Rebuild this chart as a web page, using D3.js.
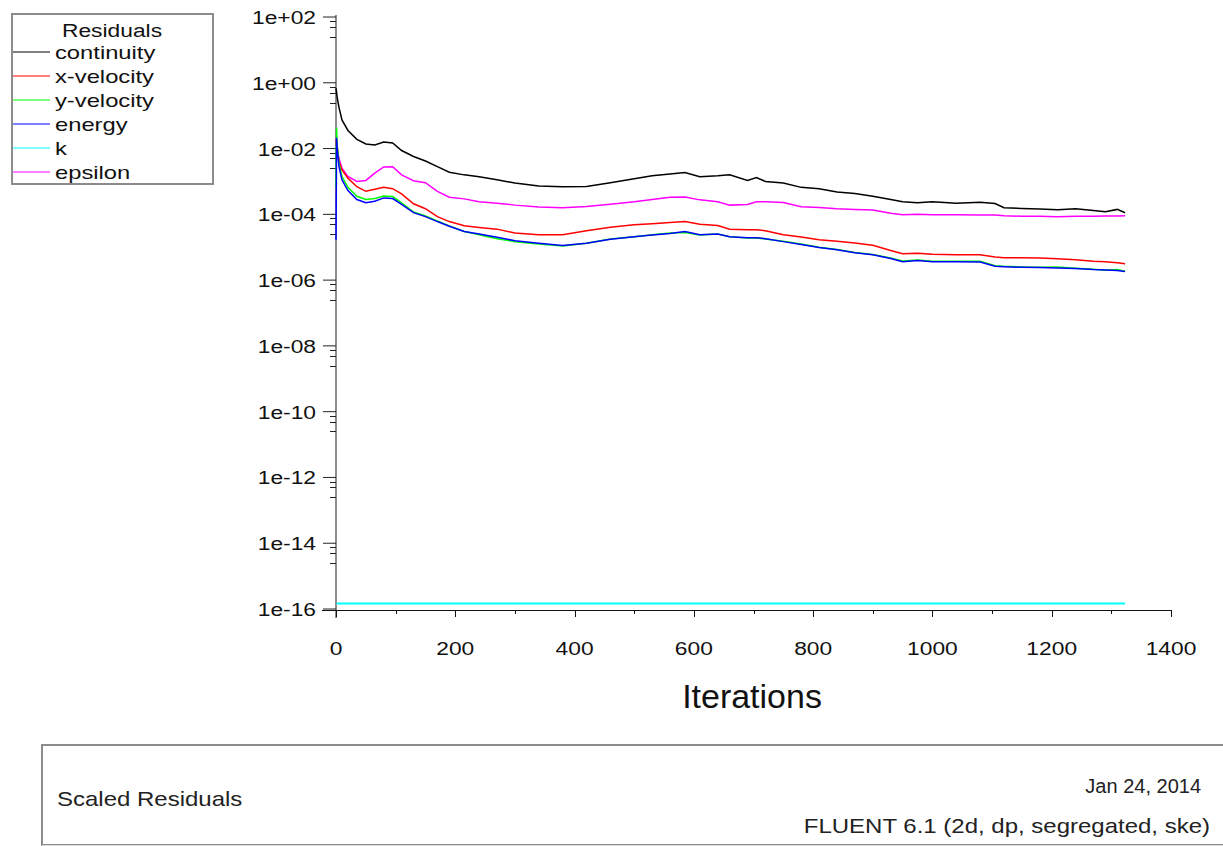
<!DOCTYPE html>
<html>
<head>
<meta charset="utf-8">
<script src="https://cdn.jsdelivr.net/npm/d3@7/dist/d3.min.js"></script>
<style>
  body { margin: 0; background: #fff; }
  svg { display: block; font-family: "Liberation Sans", Arial, sans-serif; }
</style>
</head>
<body>
<script>
// iterations shared by the residual series
const iterations = [0, 1, 2, 5, 10, 20, 35, 50, 65, 80, 95, 110, 130, 150, 170, 190, 215, 240, 270, 300,
  340, 380, 420, 460, 500, 530, 560, 585, 610, 640, 660, 690, 705, 720, 750, 780, 810, 840, 870, 900,
  930, 950, 975, 1000, 1040, 1080, 1105, 1120, 1150, 1180, 1210, 1240, 1270, 1290, 1310, 1323];

// log10 of the scaled residuals
const continuityLog = [-0.16, -0.30, -0.45, -0.75, -1.13, -1.45, -1.72, -1.86, -1.89, -1.80, -1.83, -2.06, -2.24, -2.38, -2.55, -2.72, -2.80, -2.86, -2.95, -3.05,
  -3.14, -3.16, -3.15, -3.04, -2.92, -2.83, -2.77, -2.73, -2.86, -2.83, -2.80, -2.97, -2.88, -3.00, -3.05, -3.18, -3.22, -3.32, -3.37, -3.45,
  -3.55, -3.62, -3.65, -3.62, -3.66, -3.63, -3.67, -3.80, -3.82, -3.84, -3.86, -3.83, -3.88, -3.92, -3.85, -3.95];
const xVelocityLog = [-1.90, -1.74, -1.95, -2.40, -2.65, -2.90, -3.16, -3.30, -3.24, -3.18, -3.22, -3.38, -3.68, -3.83, -4.07, -4.22, -4.35, -4.40, -4.45, -4.57,
  -4.62, -4.62, -4.50, -4.39, -4.32, -4.29, -4.25, -4.22, -4.30, -4.34, -4.45, -4.47, -4.47, -4.50, -4.62, -4.69, -4.77, -4.82, -4.87, -4.94,
  -5.10, -5.20, -5.18, -5.21, -5.23, -5.23, -5.30, -5.32, -5.32, -5.33, -5.35, -5.38, -5.43, -5.44, -5.47, -5.50];
const yVelocityLog = [-3.19, -1.37, -1.90, -2.45, -2.85, -3.18, -3.45, -3.55, -3.52, -3.44, -3.46, -3.65, -3.93, -4.05, -4.20, -4.35, -4.52, -4.62, -4.74, -4.83,
  -4.90, -4.96, -4.88, -4.75, -4.68, -4.62, -4.57, -4.55, -4.63, -4.60, -4.68, -4.72, -4.72, -4.75, -4.82, -4.90, -5.00, -5.07, -5.16, -5.22,
  -5.33, -5.42, -5.39, -5.43, -5.43, -5.43, -5.56, -5.58, -5.60, -5.61, -5.60, -5.64, -5.67, -5.70, -5.68, -5.73];
const energyLog = [-4.77, -1.67, -2.00, -2.55, -2.95, -3.28, -3.55, -3.65, -3.60, -3.50, -3.52, -3.70, -3.95, -4.07, -4.22, -4.36, -4.52, -4.60, -4.70, -4.80,
  -4.88, -4.95, -4.88, -4.76, -4.68, -4.63, -4.58, -4.52, -4.62, -4.60, -4.68, -4.71, -4.71, -4.74, -4.83, -4.92, -5.01, -5.08, -5.17, -5.23,
  -5.34, -5.44, -5.40, -5.44, -5.44, -5.45, -5.58, -5.59, -5.61, -5.62, -5.63, -5.65, -5.68, -5.69, -5.71, -5.74];
const epsilonLog = [-1.67, -1.90, -2.00, -2.30, -2.60, -2.85, -3.00, -2.97, -2.75, -2.56, -2.55, -2.80, -2.98, -3.04, -3.30, -3.48, -3.53, -3.62, -3.66, -3.72,
  -3.78, -3.80, -3.76, -3.69, -3.62, -3.55, -3.48, -3.47, -3.56, -3.62, -3.72, -3.70, -3.62, -3.62, -3.64, -3.77, -3.79, -3.83, -3.85, -3.87,
  -3.97, -4.01, -4.00, -4.01, -4.01, -4.02, -4.02, -4.04, -4.06, -4.06, -4.07, -4.06, -4.06, -4.05, -4.05, -4.04];
// k stays flat at the floor of the plot
const kIterations = [1, 1323];
const kLog = [-15.83, -15.83];

const seriesNames = ["continuity", "x-velocity", "y-velocity", "energy", "k", "epsilon"];
const seriesColors = ["#000000", "#ff0000", "#00ff00", "#0000ff", "#00ffff", "#ff00ff"];
const xTicks = [0, 200, 400, 600, 800, 1000, 1200, 1400];
const yTickExponents = [2, 0, -2, -4, -6, -8, -10, -12, -14, -16];

const width = 1223, height = 846;
const svg = d3.select("body").append("svg").attr("width", width).attr("height", height);

// the original screenshot has its text stretched sideways a bit
function wideText(parent, tx, ty, str, size, anchor, sx) {
  return parent.append("g").attr("transform", `translate(${tx},${ty}) scale(${sx},1)`)
    .append("text").attr("text-anchor", anchor).attr("font-size", size).attr("fill", "#111").text(str);
}

const x = d3.scaleLinear().domain([0, 1400]).range([336, 1171]);
const y = d3.scaleLog().domain([1e-16, 1e2]).range([609, 17]);

// y axis
const yTickVals = yTickExponents.map((e) => Math.pow(10, e));
const yMinor = [];
yTickExponents.forEach((e) => {
  if (e > -16) [0.75, 0.5, 0.25].forEach((m) => yMinor.push(m * Math.pow(10, e)));
});
const yAxisG = svg.append("g");
yAxisG.append("line").attr("x1", 336).attr("x2", 336).attr("y1", 15).attr("y2", 618)
  .attr("stroke", "#8c8c8c").attr("stroke-width", 2);
yAxisG.selectAll(".ymaj").data(yTickVals).enter().append("line")
  .attr("x1", 323).attr("x2", 336).attr("y1", (d) => y(d)).attr("y2", (d) => y(d))
  .attr("stroke", "#222").attr("stroke-width", 1);
yAxisG.selectAll(".ymin").data(yMinor).enter().append("line")
  .attr("x1", 330).attr("x2", 336).attr("y1", (d) => Math.round(y(d)) + 0.5).attr("y2", (d) => Math.round(y(d)) + 0.5)
  .attr("stroke", "#222").attr("stroke-width", 1);
yTickExponents.forEach((d) => {
  const label = "1e" + (d >= 0 ? "+" : "-") + String(Math.abs(d)).padStart(2, "0");
  wideText(yAxisG, 316, y(Math.pow(10, d)) + 7, label, 19, "end", 1.2);
});

// x axis
const xAxisG = svg.append("g");
xAxisG.append("line").attr("x1", 322).attr("x2", 1172).attr("y1", 610.5).attr("y2", 610.5)
  .attr("stroke", "#111").attr("stroke-width", 1);
xAxisG.selectAll(".xmaj").data(xTicks).enter().append("line")
  .attr("x1", (d) => Math.round(x(d)) + 0.5).attr("x2", (d) => Math.round(x(d)) + 0.5)
  .attr("y1", 610).attr("y2", 617).attr("stroke", "#111");
xAxisG.selectAll(".xmin").data(d3.range(100, 1400, 200)).enter().append("line")
  .attr("x1", (d) => Math.round(x(d)) + 0.5).attr("x2", (d) => Math.round(x(d)) + 0.5)
  .attr("y1", 610).attr("y2", 614).attr("stroke", "#111");
xTicks.forEach((d) => wideText(xAxisG, x(d), 655, String(d), 19, "middle", 1.2));
wideText(svg, 752, 708, "Iterations", 33, "middle", 1.03);

// residual curves
const seriesLogs = [continuityLog, xVelocityLog, yVelocityLog, energyLog, kLog, epsilonLog];
const line = d3.line().x((d) => x(d[0])).y((d) => y(Math.pow(10, d[1])));
const drawOrder = [4, 5, 0, 1, 2, 3];
drawOrder.forEach((i) => {
  const its = i === 4 ? kIterations : iterations;
  const pts = its.map((it, j) => [it, seriesLogs[i][j]]);
  svg.append("path").datum(pts).attr("d", line)
    .attr("fill", "none").attr("stroke", seriesColors[i]).attr("stroke-width", i === 4 ? 2 : 1.5);
});

// legend
const legend = svg.append("g");
legend.append("rect").attr("x", 12).attr("y", 14).attr("width", 201).attr("height", 170)
  .attr("fill", "#fff").attr("stroke", "#8c8c8c").attr("stroke-width", 2);
wideText(legend, 112, 37, "Residuals", 19, "middle", 1.2);
seriesNames.forEach((name, i) => {
  const yy = 52 + i * 24;
  legend.append("line").attr("x1", 13).attr("x2", 50).attr("y1", yy).attr("y2", yy)
    .attr("stroke", seriesColors[i]).attr("stroke-width", 2).attr("stroke-opacity", 0.5);
  wideText(legend, 55, yy + 7, name, 19, "start", 1.25);
});

// footer box
const foot = svg.append("g");
foot.append("rect").attr("x", 42).attr("y", 745).attr("width", 1190).attr("height", 100)
  .attr("fill", "#fff").attr("stroke", "#8c8c8c").attr("stroke-width", 2);
foot.append("line").attr("x1", 42).attr("x2", 1223).attr("y1", 845.5).attr("y2", 845.5).attr("stroke", "#ddd");
wideText(foot, 57, 806, "Scaled Residuals", 20, "start", 1.2).attr("fill", "#222");
wideText(foot, 1201, 793, "Jan 24, 2014", 20, "end", 1.0).attr("fill", "#222");
wideText(foot, 1210, 833, "FLUENT 6.1 (2d, dp, segregated, ske)", 20, "end", 1.2).attr("fill", "#222");
</script>
</body>
</html>
